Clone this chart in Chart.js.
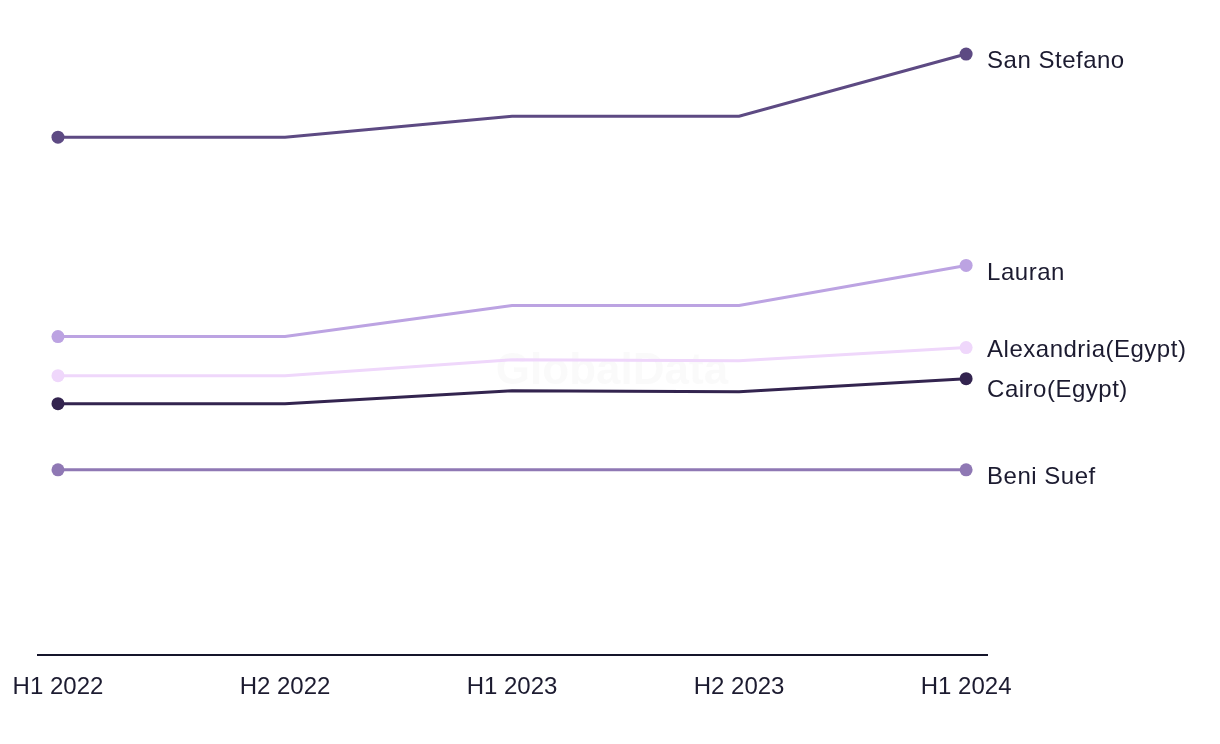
<!DOCTYPE html>
<html>
<head>
<meta charset="utf-8">
<script src="https://cdn.jsdelivr.net/npm/chart.js@4/dist/chart.umd.min.js"></script>
<style>
  html, body { margin: 0; padding: 0; background: #ffffff; }
  #wrap { width: 1220px; height: 744px; position: relative; }
</style>
</head>
<body>
<div id="wrap"><canvas id="c" width="1220" height="744"></canvas></div>
<script>
const categories = ["H1 2022", "H2 2022", "H1 2023", "H2 2023", "H1 2024"];
const seriesNames = ["San Stefano", "Lauran", "Alexandria(Egypt)", "Cairo(Egypt)", "Beni Suef"];
const sanStefano = [51700, 51700, 53800, 53800, 60000];
const lauran = [31800, 31800, 34900, 34900, 38900];
const alexandria = [27900, 27900, 29500, 29400, 30700];
const cairo = [25100, 25100, 26400, 26300, 27600];
const beniSuef = [18500, 18500, 18500, 18500, 18500];
const seriesColors = ["#5d4a83", "#bca3e2", "#efd7fb", "#33244f", "#8f78b4"];

const allSeries = [sanStefano, lauran, alexandria, cairo, beniSuef];
const textColor = "#1c1b30";

const datasets = allSeries.map((vals, si) => ({
  label: seriesNames[si],
  data: vals.map((v, i) => ({ x: i, y: v })),
  borderColor: seriesColors[si],
  backgroundColor: seriesColors[si],
  borderWidth: 3,
  tension: 0,
  fill: false,
  pointRadius: (ctx) => (ctx.dataIndex === 0 || ctx.dataIndex === vals.length - 1) ? 6.5 : 0,
  pointHoverRadius: 6.5,
  pointBorderWidth: 0
}));

const watermark = {
  id: 'watermark',
  beforeDatasetsDraw(chart) {
    const ctx = chart.ctx;
    ctx.save();
    ctx.font = "bold 44px 'Liberation Sans', Arial, sans-serif";
    ctx.fillStyle = "rgba(120,120,120,0.035)";
    ctx.textAlign = "center";
    ctx.textBaseline = "middle";
    ctx.fillText("GlobalData", 612, 372);
    ctx.restore();
  }
};

const endLabels = {
  id: 'endLabels',
  afterDatasetsDraw(chart) {
    const ctx = chart.ctx;
    const items = chart.data.datasets.map((ds, i) => {
      const meta = chart.getDatasetMeta(i);
      const pt = meta.data[meta.data.length - 1];
      return { text: ds.label, x: pt.x + 21, y: pt.y + 7.5 };
    }).sort((a, b) => a.y - b.y);
    const gap = 40;
    for (let iter = 0; iter < 20; iter++) {
      for (let i = 1; i < items.length; i++) {
        const d = items[i].y - items[i - 1].y;
        if (d < gap) {
          const push = (gap - d) / 2;
          items[i - 1].y -= push;
          items[i].y += push;
        }
      }
    }
    ctx.save();
    ctx.font = "24px 'Liberation Sans', Arial, sans-serif";
    if ('letterSpacing' in ctx) ctx.letterSpacing = '0.5px';
    ctx.fillStyle = textColor;
    ctx.textAlign = "left";
    ctx.textBaseline = "middle";
    items.forEach(it => ctx.fillText(it.text, it.x, it.y));
    ctx.restore();
  }
};

new Chart(document.getElementById('c'), {
  type: 'line',
  data: { datasets },
  options: {
    responsive: false,
    animation: false,
    layout: { padding: { left: 38, right: 233, top: 34, bottom: 24 } },
    plugins: {
      legend: { display: false },
      tooltip: { enabled: false }
    },
    scales: {
      x: {
        type: 'linear',
        min: -0.088,
        max: 4.092,
        afterBuildTicks: (scale) => { scale.ticks = categories.map((_, i) => ({ value: i })); },
        afterFit: (scale) => { scale.paddingLeft = 0; scale.paddingRight = 0; },
        grid: { display: false, drawTicks: false },
        border: { display: true, color: "#15152b", width: 2 },
        ticks: {
          callback: (v) => categories[v] !== undefined ? categories[v] : '',
          font: { family: "'Liberation Sans', Arial, sans-serif", size: 24 },
          color: textColor,
          padding: 18,
          maxRotation: 0,
          autoSkip: false
        }
      },
      y: {
        display: false,
        min: 0,
        max: 62000
      }
    }
  },
  plugins: [watermark, endLabels]
});
</script>
</body>
</html>
